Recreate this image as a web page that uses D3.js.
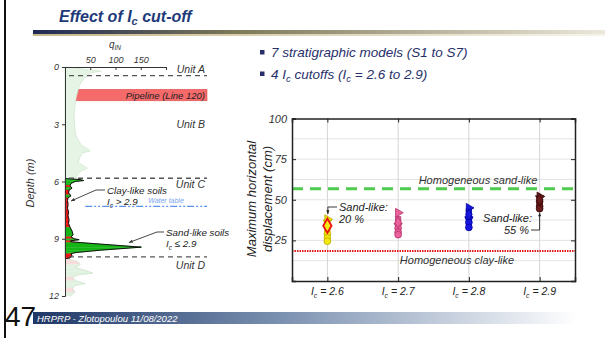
<!DOCTYPE html>
<html><head><meta charset="utf-8">
<script src="https://cdn.jsdelivr.net/npm/d3@7"></script>
<style>body{margin:0;background:#fff}svg{display:block}text{font-family:"Liberation Sans",Arial,sans-serif}</style>
</head><body><svg id="c" width="605" height="338"></svg>
<script>
// ---------------- DATA ----------------
const cutoffs = ["2.6", "2.7", "2.8", "2.9"];
const models = ["S1", "S2", "S3", "S4", "S5", "S6", "S7"];
const disp26 = [29, 38, 34, 31, 26.5, 24.5, 36];
const disp27 = [32.5, 42, 36, 38, 30, 28.5, 34];
const disp28 = [39, 45, 41, 43, 36, 33, 38];
const disp29 = [49, 52, 50, 48, 46, 44.5, 51];
const homogeneousSand = 56.8;
const homogeneousClay = 18.5;
const yTickValues = [25, 50, 75, 100];
const sandLikeNotes = [["2.6", "S3", "20 %"], ["2.9", "S2", "55 %"]];

// CPT profile (depth m, q_IN)
const depthUpper = [0, 0.05, 0.15, 0.22, 0.3, 0.45, 0.6, 0.8, 1.0, 1.3, 1.6, 2.0, 2.5, 3.0, 3.3, 3.6, 3.9, 4.1, 4.3, 4.4, 4.5, 4.7, 5.0, 5.2, 5.3, 5.45, 5.6, 5.8, 5.85];
const qUpper     = [0, 20, 45, 72, 50, 45, 38, 32, 28, 25, 22, 20, 18, 19, 20, 22, 28, 32, 45, 50, 35, 30, 26, 38, 44, 32, 26, 22, 0];
const depthMid = [5.85, 5.9, 5.95, 6.0, 6.1, 6.2, 6.3, 6.35, 6.45, 6.6, 6.7, 6.75, 6.85, 7.0, 7.2, 7.4, 7.6, 7.8, 8.0, 8.2, 8.4, 8.6, 8.8, 8.9, 9.0, 9.05, 9.1, 9.15, 9.2, 9.44, 9.6, 9.72, 9.78, 9.9, 10.0, 10.05];
const qMid     = [2, 30, 37, 20, 12, 10, 12, 14, 8, 7, 10, 12, 6, 5, 6, 5, 7, 6, 8, 7, 10, 14, 16, 12, 18, 28, 12, 10, 30, 151, 70, 22, 12, 14, 10, 0];
const soilMid  = ["S","S","S","S","S","C","S","S","C","C","S","S","C","C","C","C","C","C","C","C","S","S","S","C","S","S","C","C","S","S","S","S","C","C","C","C"];
const depthLower = [10.05, 10.1, 10.2, 10.35, 10.5, 10.7, 10.8, 10.9, 11.0, 11.2, 11.35, 11.45, 11.6, 11.8, 12.0];
const qLower     = [0, 12, 25, 30, 20, 45, 55, 25, 15, 20, 40, 20, 15, 20, 10];
const soilLower  = ["C","C","C","S","S","S","S","S","C","S","S","S","C","S","S"];
const depthTicks = [0, 3, 6, 9, 12];
const qTicks = [50, 100, 150];
const units = [["Unit A", 0.1], ["Unit B", 3.0], ["Unit C", 6.15], ["Unit D", 10.35]];
const unitBoundaries = [0.45, 5.83, 9.95];
const pipeline = [1.17, 1.77];
const waterTable = 7.3;

// ---------------- DRAW ----------------
const svg = d3.select("#c");
svg.append("rect").attr("width", 605).attr("height", 338).attr("fill", "#fff");
const defs = svg.append("defs");

// left border line
svg.append("rect").attr("x", 4).attr("y", 0).attr("width", 2).attr("height", 338).attr("fill", "#111");

// title
const tt = svg.append("text").attr("x", 59).attr("y", 22).attr("fill", "#1F3A7A")
  .attr("font-family", "Lato, 'Open Sans', sans-serif").attr("font-size", 16)
  .attr("font-weight", "bold").attr("font-style", "italic");
tt.append("tspan").text("Effect of I");
tt.append("tspan").attr("font-size", 11).attr("dy", 3).text("c");
tt.append("tspan").attr("dy", -3).text(" cut-off");

// title bar
const g1 = defs.append("linearGradient").attr("id", "tbar");
g1.append("stop").attr("offset", "0%").attr("stop-color", "#1f2a55");
g1.append("stop").attr("offset", "35%").attr("stop-color", "#7d7858");
g1.append("stop").attr("offset", "100%").attr("stop-color", "#ece8da");
svg.append("rect").attr("x", 33).attr("y", 30).attr("width", 572).attr("height", 4).attr("fill", "url(#tbar)");
const g1b = defs.append("linearGradient").attr("id", "tbar2");
g1b.append("stop").attr("offset", "0%").attr("stop-color", "#c9b98a");
g1b.append("stop").attr("offset", "100%").attr("stop-color", "#f6f3ea");
svg.append("rect").attr("x", 33).attr("y", 34).attr("width", 572).attr("height", 2).attr("fill", "url(#tbar2)");

// footer
const g2 = defs.append("linearGradient").attr("id", "fbar");
g2.append("stop").attr("offset", "0%").attr("stop-color", "#1f3766");
g2.append("stop").attr("offset", "45%").attr("stop-color", "#7a90b0");
g2.append("stop").attr("offset", "100%").attr("stop-color", "#ffffff");
svg.append("rect").attr("x", 33).attr("y", 312).attr("width", 545).attr("height", 12).attr("fill", "url(#fbar)");
svg.append("text").attr("x", 37).attr("y", 321.5).attr("fill", "#fff").attr("font-size", 9.5)
  .attr("font-style", "italic").text("HRPRP - Zlotopoulou 11/08/2022");
svg.append("text").attr("x", 5).attr("y", 326).attr("font-family", "'Liberation Serif', serif")
  .attr("font-size", 28).attr("fill", "#111").text("47");

// bullets
const bulletColor = "#27306a";
[[["7 stratigraphic models (S1 to S7)", 0]], [["4 I", 0], ["c", 1], [" cutoffs (I", 0], ["c", 1], [" = 2.6 to 2.9)", 0]]].forEach((parts, i) => {
  const y = 57 + i * 21.5;
  svg.append("rect").attr("x", 260).attr("y", y - 7).attr("width", 4.5).attr("height", 4.5).attr("fill", bulletColor);
  const t = svg.append("text").attr("x", 271).attr("y", y).attr("fill", bulletColor)
    .attr("font-family", "Lato, sans-serif").attr("font-size", 13.5).attr("font-style", "italic");
  let sub = 0;
  parts.forEach(([s, isSub]) => {
    const ts = t.append("tspan").text(s);
    if (isSub && !sub) { ts.attr("font-size", 9.5).attr("dy", 3); sub = 1; }
    else if (!isSub && sub) { ts.attr("dy", -3); sub = 0; }
  });
});

// ---------- LEFT CPT PROFILE ----------
const qS = d3.scaleLinear().domain([0, 200]).range([65, 166]);
const dS = d3.scaleLinear().domain([0, 12]).range([67, 296]);
const L = svg.append("g");
const xRight = 207;

// pipeline band
L.append("rect").attr("x", qS(0) + 1).attr("y", dS(pipeline[0])).attr("width", xRight - qS(0) - 1)
  .attr("height", dS(pipeline[1]) - dS(pipeline[0])).attr("fill", "#f56a6a").attr("stroke", "#e05050").attr("stroke-width", 0.6);
L.append("text").attr("x", 205).attr("y", dS((pipeline[0] + pipeline[1]) / 2) + 3.5).attr("text-anchor", "end")
  .attr("font-size", 9.5).attr("font-style", "italic").attr("fill", "#222").text("Pipeline (Line 120)");

// upper faded profile
const upper = depthUpper.map((d, i) => ({ d, q: qUpper[i] }));
L.append("path").datum(upper)
  .attr("d", d3.area().y(p => dS(p.d)).x0(qS(0)).x1(p => qS(p.q)))
  .attr("fill", "#e6f4e6").attr("stroke", "#cfe8cf").attr("stroke-width", 0.8);

// coloured segments helper
function segments(ds, qs, soil, colS, colC) {
  for (let i = 0; i < ds.length - 1; i++) {
    const pts = [[qS(0), dS(ds[i])], [qS(qs[i]), dS(ds[i])], [qS(qs[i + 1]), dS(ds[i + 1])], [qS(0), dS(ds[i + 1])]];
    L.append("path").attr("d", d3.line()(pts) + "Z").attr("fill", soil[i] === "S" ? colS : colC)
      .attr("stroke", soil[i] === "S" ? colS : colC).attr("stroke-width", 0.4);
  }
}
segments(depthLower, qLower, soilLower, "#e2f2e2", "#f9dcdc");
L.append("path").datum(depthLower.map((d, i) => ({ d, q: qLower[i] })))
  .attr("d", d3.line().y(p => dS(p.d)).x(p => qS(p.q))).attr("fill", "none").attr("stroke", "#cfe4cf").attr("stroke-width", 0.8);
segments(depthMid, qMid, soilMid, "#16b516", "#ee1515");
L.append("path").datum(depthMid.map((d, i) => ({ d, q: qMid[i] })))
  .attr("d", d3.line().y(p => dS(p.d)).x(p => qS(p.q))).attr("fill", "none").attr("stroke", "#111").attr("stroke-width", 1);

// unit boundaries
unitBoundaries.forEach(d => {
  L.append("line").attr("x1", qS(0) + 4).attr("x2", xRight).attr("y1", dS(d)).attr("y2", dS(d))
    .attr("stroke", "#555").attr("stroke-width", 1.3).attr("stroke-dasharray", "5,4");
});
units.forEach(([u, d]) => {
  L.append("text").attr("x", 205).attr("y", dS(d) + 4).attr("text-anchor", "end").attr("font-size", 10.5)
    .attr("font-style", "italic").attr("fill", "#333").text(u);
});
// water table
L.append("line").attr("x1", qS(40)).attr("x2", xRight).attr("y1", dS(waterTable)).attr("y2", dS(waterTable))
  .attr("stroke", "#5f8fef").attr("stroke-width", 1.3).attr("stroke-dasharray", "7,2,2,2,2,2");
L.append("text").attr("x", 166).attr("y", dS(waterTable) - 3).attr("text-anchor", "middle").attr("font-size", 7)
  .attr("font-style", "italic").attr("fill", "#7aa4f2").text("Water table");

// axes
const topAx = d3.axisTop(qS).tickValues([0, ...qTicks, 200]).tickSize(-3).tickFormat(d => qTicks.includes(d) ? d : "");
L.append("g").attr("transform", `translate(0,${dS(0)})`).call(topAx)
  .call(g => { g.select(".domain").attr("stroke", "#333"); g.selectAll("line").attr("stroke", "#333");
    g.selectAll("text").attr("font-size", 9).attr("font-style", "italic").attr("fill", "#333").attr("dy", "-0.1em"); });
const leftAx = d3.axisLeft(dS).tickValues(depthTicks).tickSize(3).tickFormat(d3.format("d"));
L.append("g").attr("transform", `translate(${qS(0)},0)`).call(leftAx)
  .call(g => { g.select(".domain").attr("stroke", "#333"); g.selectAll("line").attr("stroke", "#333");
    g.selectAll("text").attr("font-size", 9).attr("font-style", "italic").attr("fill", "#333"); });
const ql = L.append("text").attr("x", 115).attr("y", 48).attr("text-anchor", "middle").attr("font-size", 10)
  .attr("font-style", "italic").attr("fill", "#333");
ql.append("tspan").text("q");
ql.append("tspan").attr("font-size", 6.5).attr("dy", 2).text("IN");
L.append("text").attr("transform", "translate(34,183) rotate(-90)").attr("text-anchor", "middle")
  .attr("font-size", 11).attr("font-style", "italic").attr("fill", "#333").text("Depth (m)");

// annotations left
function arrowHead(g, x, y, ang, col) {
  const s = 4;
  const p = [[x, y], [x - s * Math.cos(ang - 0.4), y - s * Math.sin(ang - 0.4)], [x - s * Math.cos(ang + 0.4), y - s * Math.sin(ang + 0.4)]];
  g.append("path").attr("d", d3.line()(p) + "Z").attr("fill", col);
}
function polyArrow(g, pts, col) {
  g.append("path").attr("d", d3.line()(pts)).attr("fill", "none").attr("stroke", col).attr("stroke-width", 0.9);
  const a = pts[pts.length - 2], b = pts[pts.length - 1];
  arrowHead(g, b[0], b[1], Math.atan2(b[1] - a[1], b[0] - a[0]), col);
}
function subLabel(g, x, y, parts, size, anchor) {
  const t = g.append("text").attr("x", x).attr("y", y).attr("font-size", size).attr("font-style", "italic")
    .attr("fill", "#222").attr("text-anchor", anchor || "start");
  let sub = 0;
  parts.forEach(([s, isSub]) => {
    const ts = t.append("tspan").text(s);
    if (isSub && !sub) { ts.attr("font-size", size * 0.65).attr("dy", 2.5); sub = 1; }
    else if (!isSub && sub) { ts.attr("dy", -2.5); sub = 0; }
  });
  return t;
}
polyArrow(L, [[105, 190], [96, 190], [71, 201]], "#333");
subLabel(L, 107, 193.5, [["Clay-like soils", 0]], 9.8);
subLabel(L, 107, 205, [["I", 0], ["c", 1], [" > 2.9", 0]], 9.8);
polyArrow(L, [[164, 232], [157, 232], [129, 242.5]], "#333");
subLabel(L, 166, 235.5, [["Sand-like soils", 0]], 9.8);
subLabel(L, 166, 247, [["I", 0], ["c", 1], [" \u2264 2.9", 0]], 9.8);

// ---------- RIGHT SCATTER ----------
const xS = d3.scalePoint().domain(cutoffs).range([292, 575]).padding(0.5);
const yS = d3.scaleLinear().domain([0, 100]).range([281, 118.5]);
const R = svg.append("g");
// grid
d3.range(12.5, 100, 12.5).forEach(v => {
  R.append("line").attr("x1", 292).attr("x2", 575).attr("y1", yS(v)).attr("y2", yS(v)).attr("stroke", "#dcdcdc").attr("stroke-width", 0.8);
});
cutoffs.forEach(c => {
  R.append("line").attr("x1", xS(c)).attr("x2", xS(c)).attr("y1", yS(0)).attr("y2", yS(100)).attr("stroke", "#d4d4d4").attr("stroke-width", 1);
});
// reference lines
R.append("line").attr("x1", 292).attr("x2", 575).attr("y1", yS(homogeneousSand)).attr("y2", yS(homogeneousSand))
  .attr("stroke", "#4fcb4f").attr("stroke-width", 3).attr("stroke-dasharray", "11,7");
R.append("text").attr("x", 478).attr("y", yS(homogeneousSand) - 5).attr("text-anchor", "middle").attr("font-size", 11)
  .attr("font-style", "italic").attr("fill", "#333").text("Homogeneous sand-like");
R.append("line").attr("x1", 292).attr("x2", 575).attr("y1", yS(homogeneousClay)).attr("y2", yS(homogeneousClay))
  .attr("stroke", "#e51b1b").attr("stroke-width", 2).attr("stroke-dasharray", "1.5,1");
R.append("text").attr("x", 457).attr("y", yS(homogeneousClay) + 13).attr("text-anchor", "middle").attr("font-size", 11)
  .attr("font-style", "italic").attr("fill", "#333").text("Homogeneous clay-like");

// axes box
const axStyle = g => { g.select(".domain").attr("stroke", "#222").attr("stroke-width", 1.5); g.selectAll("line").attr("stroke", "#222");
  g.selectAll("text").attr("font-size", 11).attr("font-style", "italic").attr("fill", "#333"); };
R.append("g").attr("transform", "translate(292,0)").call(d3.axisLeft(yS).tickValues(yTickValues).tickSize(-4).tickPadding(5)).call(axStyle);
R.append("g").attr("transform", "translate(575,0)").call(d3.axisRight(yS).tickValues(yTickValues).tickSize(-4).tickFormat("")).call(axStyle);
R.append("g").attr("transform", `translate(0,${yS(100)})`).call(d3.axisTop(xS).tickSize(-4).tickFormat("")).call(axStyle);
R.append("g").attr("transform", `translate(0,${yS(0)})`).call(d3.axisBottom(xS).tickSize(-4).tickFormat("")).call(axStyle);
cutoffs.forEach(c => subLabel(R, xS(c), 295, [["I", 0], ["c", 1], [" = " + c, 0]], 10.5, "middle"));

// y label
const yl = R.append("text").attr("transform", "translate(256,199) rotate(-90)").attr("text-anchor", "middle")
  .attr("font-size", 13).attr("font-style", "italic").attr("fill", "#222");
yl.append("tspan").attr("x", 0).attr("dy", 0).text("Maximum horizontal");
yl.append("tspan").attr("x", 0).attr("dy", 16).text("displacement (cm)");

// markers
const series = { "2.6": disp26, "2.7": disp27, "2.8": disp28, "2.9": disp29 };
const fills = { "2.6": "#f3e812", "2.7": "#e9609a", "2.8": "#1717e0", "2.9": "#6a1c1c" };
const strokes = { "2.6": "#b9a900", "2.7": "#b2336a", "2.8": "#00009a", "2.9": "#3a0a0a" };
const shapes = [d3.symbolCircle, d3.symbolTriangle, d3.symbolDiamond, d3.symbolSquare, d3.symbolCircle, d3.symbolCircle, d3.symbolTriangle];
const rot = [0, 90, 0, 0, 0, 0, 180];
const sizes = [36, 34, 38, 28, 36, 36, 30];
const drawOrder = [6, 3, 1, 0, 4, 5, 2];
cutoffs.forEach(c => {
  drawOrder.forEach(i => {
    const hl = c === sandLikeNotes[0][0] && models[i] === sandLikeNotes[0][1];
    R.append("path").attr("d", d3.symbol().type(shapes[i]).size(hl ? 60 : sizes[i])())
      .attr("transform", `translate(${xS(c)},${yS(series[c][i])}) rotate(${rot[i]})`)
      .attr("fill", fills[c]).attr("stroke", hl ? "#ee1111" : strokes[c]).attr("stroke-width", hl ? 1.8 : 0.8);
  });
});

// sand-like annotations
{
  const c = sandLikeNotes[0][0], v = series[c][models.indexOf(sandLikeNotes[0][1])];
  polyArrow(R, [[337, 207], [xS(c) + 0.5, 207], [xS(c) + 0.5, 214]], "#222");
  subLabel(R, 339, 211, [["Sand-like:", 0]], 11);
  subLabel(R, 339, 223, [[sandLikeNotes[0][2], 0]], 11);
}
{
  const c = sandLikeNotes[1][0], v = d3.min(series[c]);
  polyArrow(R, [[531, 230], [xS(c), 230], [xS(c), yS(v) + 4]], "#222");
  subLabel(R, 532, 222, [["Sand-like:", 0]], 11, "end");
  subLabel(R, 529, 234, [[sandLikeNotes[1][2], 0]], 11, "end");
}
</script></body></html>
